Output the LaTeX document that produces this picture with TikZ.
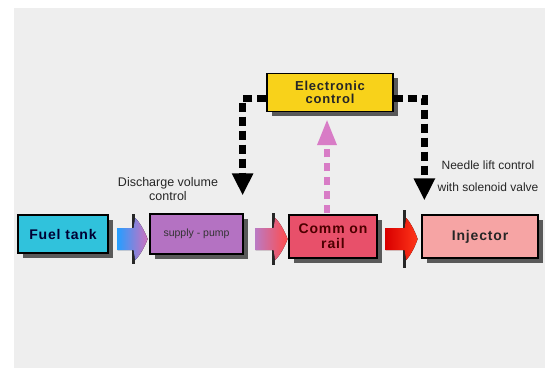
\documentclass[tikz,border=0pt]{standalone}
\usepackage{fontspec}
\setmainfont{Liberation Sans}
\newfontfamily\spaced[LetterSpace=6]{Liberation Sans}
\usetikzlibrary{calc,shadows,arrows.meta}
\definecolor{bg}{HTML}{EEEEEE}
\definecolor{tankc}{HTML}{30C2DC}
\definecolor{pumpc}{HTML}{B472C2}
\definecolor{railc}{HTML}{E8506A}
\definecolor{injc}{HTML}{F6A4A4}
\definecolor{ecc}{HTML}{F8D21A}
\definecolor{pinkc}{HTML}{D87CC6}
\newcommand\blkarrow[6]{%
  % #1 start coordinate, #2 shaft length, #3 head length, #4 left colour, #5 right colour, #6 bar half-height extra
  \begin{scope}[shift={(#1)}]
    \draw[line width=3pt, black!85] (#2,{-16-#6}) -- (#2,{26+#6});
    \fill[left color=#4, right color=#5]
      (0,-6) -- (#2,-6) -- ({#2+1.5},-16)
      .. controls ({#2+0.45*#3},-12) and ({#2+0.85*#3},-1) .. ({#2+#3},5)
      .. controls ({#2+0.85*#3},11) and ({#2+0.45*#3},22) .. ({#2+1.5},26)
      -- (#2,16) -- (0,16) -- cycle;
  \end{scope}}
\begin{document}
\begin{tikzpicture}[x=1pt,y=-1pt,
  box/.style={draw=black, line width=1.2pt, inner sep=0pt, align=center,
    font=\spaced\bfseries\fontsize{14}{15}\selectfont,
    drop shadow={shadow xshift=4.5pt, shadow yshift=-4.5pt, fill=black!75, opacity=.85}},
  ctrl/.style={line width=7pt, dash pattern=on 9pt off 5pt, black,
    -{Triangle[length=22pt,width=20pt]}},
  pinkarrow/.style={line width=6pt, dash pattern=on 8pt off 6pt, pinkc,
    -{Triangle[length=26pt,width=18pt]}},
  lbl/.style={align=center, font=\fontsize{12.5}{13.5}\selectfont, inner sep=0pt, text=black!85}
]
\useasboundingbox (0,0) rectangle (545,368);
\fill[white] (0,0) rectangle (545,368);
\fill[bg] (14,8) rectangle (545,368);

% boxes
\node[box, fill=tankc, minimum width=90pt, minimum height=38pt, text=black!80!blue] (fuel) at (63,234) {Fuel tank};
\node[box, fill=pumpc, minimum width=93pt, minimum height=40pt,
  font=\fontsize{10.5}{12}\selectfont, text=black!80] (pump) at (196.5,234) {supply - pump};
\node[box, fill=railc, minimum width=88pt, minimum height=43pt, text=black!70!red] (rail) at (333,236.5) {Comm on\\rail};
\node[box, fill=ecc, minimum width=126pt, minimum height=38pt, text=black!85,
  font=\spaced\bfseries\fontsize{13}{13.5}\selectfont] (ec) at (330,92.5) {Electronic\\control};
\node[box, fill=injc, minimum width=116pt, minimum height=43pt, text=black!85] (inj) at (480,236.5) {Injector};

% block arrows
\coordinate (s1) at ($(fuel.east)+(9,0)$);
\coordinate (s2) at ($(pump.east)+(12,0)$);
\coordinate (s3) at ($(rail.east)+(8,-2.5)$);
\blkarrow{s1}{16}{14}{cyan!55!blue!85}{pinkc!90!violet}{4}
\blkarrow{s2}{18}{14}{pumpc!90!pink}{red!60!pink}{5}
\blkarrow{s3}{19}{13}{red!85!black}{red!75!orange!90}{8}

% control lines
\coordinate (dl) at ($(pump.north east)+(-1,-18)$);
\coordinate (dr) at ($(inj.north west)+(3,-14)$);
\draw[ctrl] ($(ec.west)+(0,6)$) -| (dl);
\draw[ctrl] ($(ec.east)+(0,6)$) -| (dr);
\draw[pinkarrow] ($(rail.north)+(-6,-1)$) -- ($(ec.south)+(-3,7)$);

% labels
\node[lbl] (dvc) at (168,189) {Discharge volume\\control};
\node[lbl, font=\fontsize{12}{22}\selectfont] (nlc) at (488,176) {Needle lift control\\with solenoid valve};
\end{tikzpicture}
\end{document}
